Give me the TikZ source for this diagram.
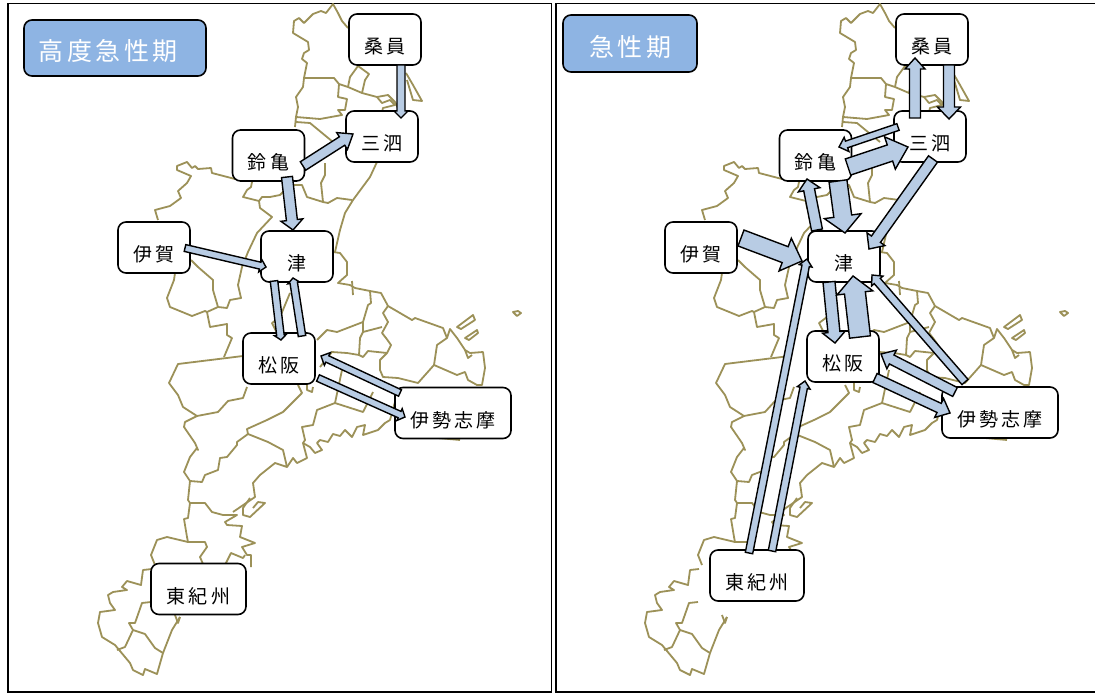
\documentclass[tikz,border=0pt]{standalone}
\usepackage{fontspec}
\usetikzlibrary{calc}
\newfontfamily\jp[LetterSpace=16]{Noto Sans CJK JP}
\newfontfamily\jpt[LetterSpace=14]{Noto Sans CJK JP}
\definecolor{maplc}{HTML}{9C9158}
\definecolor{arrowc}{HTML}{B8CCE4}
\definecolor{titlec}{HTML}{8EB4E3}
\tikzset{
  mapline/.style={draw=maplc,line width=1.8pt,line join=round,fill=none},
  framebox/.style={draw=black,line width=1.6pt,fill=none},
  place/.style={draw=black,fill=white,line width=1.6pt,rounded corners=8pt,inner sep=0pt,
    minimum width=72pt,minimum height=51pt,text height=36pt,text depth=8pt,
    font=\jp\fontsize{19pt}{19pt}\selectfont},
  wideplace/.style={place,minimum width=#1},
  titlebox/.style={draw=black,fill=titlec,line width=1.6pt,rounded corners=8pt,inner sep=0pt,
    text=white,text height=30pt,text depth=4pt,font=\jpt\fontsize{25pt}{25pt}\selectfont},
  bk/.style n args={3}{draw=black,fill=arrowc,line width=1.4pt,line join=miter,
    to path={ let \p0=(\tikztostart), \p1=(\tikztotarget), \p2=($(\p1)!#3pt!(\p0)$) in
      -- ($(\p0)!0.5*#1pt!90:(\p1)$) -- ($(\p2)!0.5*#1pt!90:(\p1)$) -- ($(\p2)!0.5*#2pt!90:(\p1)$)
      -- (\p1)
      -- ($(\p2)!0.5*#2pt!-90:(\p1)$) -- ($(\p2)!0.5*#1pt!-90:(\p1)$) -- ($(\p0)!0.5*#1pt!-90:(\p1)$) -- cycle}}
}
% \link{from}{dx,dy}{to}{dx,dy}{shaft}{head width}{head length}
\newcommand\link[7]{%
  \coordinate (cs) at ([shift={(#2)}]#1.center);
  \coordinate (ct) at ([shift={(#4)}]#3.center);
  \draw[bk={#5}{#6}{#7}] (cs) to (ct);}
\newcommand\mieMap{%
  % north
  \draw[mapline] (348,28)--(342,21)--(338,13)--(333,4)--(326,13)--(321,11)--(313,14)--(304,23)--(299,18)--(294,21)--(293,33)--(308,42)--(309,50)--(304,53)--(302,59)--(307,63)--(304,78)--(303,87)--(296,97)--(298,107)--(296,117)--(295,127);
  \draw[mapline] (303,78)--(334,78)--(339,84)--(348,87)--(362,93)--(377,97)--(388,95)--(395,102)--(399,110);
  \draw[mapline] (339,84)--(338,97)--(347,99)--(345,110)--(338,110)--(342,115)--(320,119)--(296,117);
  \draw[mapline] (358,66)--(350,77)--(348,87);
  \draw[mapline] (358,66)--(369,74)--(365,80)--(362,93);
  \draw[mapline] (377,97)--(382,103)--(390,100)--(395,105)--(383,108)--(382,112);
  \draw[mapline] (406,73)--(413,85)--(422,101)--(413,100)--(407,80);
  \draw[mapline] (296,122)--(310,123)--(333,142);
  \draw[mapline] (377,162)--(370,177)--(353,200)--(345,213)--(340,230)--(335,252);
  \draw[mapline] (325,163)--(325,175)--(321,183)--(323,202)--(307,197)--(302,185)--(290,185);
  \draw[mapline] (323,202)--(328,203)--(337,198)--(352,200);
  % west of Suzuka
  \draw[mapline] (235,179)--(212,173)--(211,168)--(198,169)--(195,166)--(192,168)--(187,162)--(177,166)--(177,170)--(191,176)--(187,183)--(178,191)--(181,198)--(170,206)--(155,210)--(158,220);
  \draw[mapline] (252,182)--(251,187)--(247,190)--(243,197)--(259,201)--(262,197)--(270,197)--(280,195)--(290,185);
  \draw[mapline] (259,201)--(260,208)--(272,217)--(257,233)--(248,252)--(242,267)--(238,285)--(241,298)--(230,300)--(227,308)--(218,307)--(213,290)--(213,280)--(198,267)--(191,260);
  \draw[mapline] (175,273)--(174,280)--(167,298)--(170,307)--(192,316)--(205,311)--(207,312)--(218,307);
  \draw[mapline] (207,312)--(210,327)--(227,324)--(227,335)--(232,338)--(224,357);
  % Tsu south
  \draw[mapline] (290,293)--(280,317)--(272,323)--(277,333);
  % Matsusaka
  \draw[mapline] (243,356)--(178,364)--(169,383)--(178,395)--(183,407)--(197,416)--(185,422)--(184,427)--(195,443)--(198,450)--(197,448)--(190,457)--(184,472)--(190,481)--(188,500)--(190,503)--(205,503)--(212,512)--(223,515)--(237,515)--(225,522)--(227,525)--(242,526)--(240,537)--(255,543)--(242,547)--(247,555)--(251,555)--(251,567);
  \draw[mapline] (197,416)--(218,412)--(228,401)--(243,398)--(247,387);
  \draw[mapline] (298,385)--(302,393)--(283,412)--(267,420)--(247,429)--(248,434)--(237,442)--(237,445)--(227,457)--(220,458)--(218,470)--(205,475)--(202,482)--(190,481);
  \draw[mapline] (248,434)--(268,442)--(283,450)--(287,467)--(275,463)--(260,475)--(253,483)--(255,497)--(233,512);
  \draw[mapline] (250,498)--(243,508)--(243,515)--(250,517)--(265,503)--(258,502)--(253,508);
  \draw[mapline] (287,467)--(293,458)--(297,463)--(307,458)--(303,443)--(305,440)--(302,427)--(313,425)--(317,410)--(335,403)--(363,412)--(373,392);
  \draw[mapline] (307,383)--(307,390)--(312,392)--(313,387);
  \draw[mapline] (335,403)--(342,370);
  \draw[mapline] (320,367)--(332,352)--(347,353)--(359,355);
  % coast of bay
  \draw[mapline] (395,402)--(390,420)--(385,423)--(378,430)--(363,435)--(365,425)--(357,427)--(352,437)--(345,430)--(340,436)--(333,434)--(328,442)--(320,440)--(317,443)--(322,450)--(315,453)--(310,447)--(303,443);
  % east of Tsu
  \draw[mapline] (333,252)--(340,253)--(347,262)--(347,275)--(338,283)--(350,285)--(355,288)--(370,291)--(381,293)--(388,306)--(412,320)--(415,318)--(443,328)--(447,338)--(437,345)--(434,365)--(457,375)--(465,372)--(468,380)--(477,385)--(482,385)--(485,368)--(483,352)--(470,353)--(465,350)--(457,338)--(450,329)--(447,338);
  \draw[mapline] (352,281)--(353,295);
  \draw[mapline] (370,291)--(371,303)--(368,305)--(363,322)--(363,332)--(360,338)--(359,355)--(363,357)--(368,351)--(387,353)--(391,345)--(386,338)--(382,333)--(388,322)--(383,313)--(388,306);
  \draw[mapline] (363,322)--(337,332)--(327,330)--(317,340);
  \draw[mapline] (363,332)--(382,327);
  \draw[mapline] (387,353)--(380,360)--(380,370)--(383,377)--(398,378)--(418,383)--(434,365);
  \draw[mapline] (457,327)--(473,315)--(475,320)--(461,329)--cycle;
  \draw[mapline] (465,338)--(477,330)--(478,333)--(469,340)--cycle;
  \draw[mapline] (465,350)--(468,358)--(472,355);
  \draw[mapline] (513,312)--(518,311)--(521,313)--(517,316)--cycle;
  \draw[mapline] (438,438)--(460,440);
  % Higashi-Kishu
  \draw[mapline] (190,503)--(188,518)--(184,519)--(187,537)--(188,542)--(205,542)--(207,547)--(200,557)--(203,564);
  \draw[mapline] (188,542)--(167,537)--(157,540)--(151,555)--(155,565);
  \draw[mapline] (225,565)--(231,553)--(243,558)--(245,555);
  \draw[mapline] (152,569)--(143,570)--(141,585)--(127,581)--(122,587)--(127,590)--(113,592)--(108,595)--(110,603)--(115,610)--(100,612)--(98,623)--(102,637)--(115,645)--(130,663)--(133,670)--(143,675)--(145,669)--(157,674)--(163,653)--(172,630)--(180,617);
  \draw[mapline] (151,602)--(142,603)--(135,623)--(129,623)--(133,630)--(125,647)--(117,650);
  \draw[mapline] (133,630)--(145,634)--(155,648)--(163,653);
  \draw[mapline] (175,615)--(178,623)--(180,617);
}
\begin{document}
\begin{tikzpicture}[x=1pt,y=-1pt]
\useasboundingbox (0,0) rectangle (1095,693);
\fill[white] (0,0) rectangle (1095,693);
\begin{scope}
  \clip (0,0) rectangle (1095,693);
  \draw[framebox] (8,3.5) rectangle (551.5,692);
  \draw[framebox] (556,3.5) rectangle (1100,692);
\end{scope}
\mieMap
\begin{scope}[xshift=547pt]\mieMap\end{scope}
% titles
\node[titlebox,minimum width=182pt,minimum height=56pt] (t1) at (115,48) {高度急性期\kern14pt\relax};
\node[titlebox,minimum width=134pt,minimum height=57pt] (t2) at (630,43.5) {急性期};
% left panel
\node[place] (Lkuwa) at (385,39.5) {桑員};
\node[place] (Lsan) at (382,136.5) {三泗};
\node[place] (Lsuz) at (268.5,155.5) {鈴亀};
\node[place] (Ltsu) at (297,256.5) {津};
\node[place] (Liga) at (154,247.5) {伊賀};
\node[place] (Lmat) at (279,358.5) {松阪};
\node[wideplace=116pt] (Lise) at (453,413) {伊勢志摩};
\node[wideplace=95pt] (Lhig) at (198.5,589) {東紀州};
% right panel
\node[place] (Rkuwa) at (932,39.5) {桑員};
\node[place] (Rsan) at (930,136.5) {三泗};
\node[place] (Rsuz) at (815.5,155.5) {鈴亀};
\node[place] (Rtsu) at (844,256.5) {津};
\node[place] (Riga) at (701,247.5) {伊賀};
\node[place] (Rmat) at (843,356.5) {松阪};
\node[wideplace=116pt] (Rise) at (1000,412.5) {伊勢志摩};
\node[wideplace=94pt] (Rhig) at (757,575.5) {東紀州};
% left arrows
\link{Lkuwa}{16,25.5}{Lsan}{19,-18.5}{8}{14}{7}
\link{Lsuz}{34.5,10.5}{Lsan}{-29,-2.5}{10}{20}{13}
\link{Lsuz}{18.5,21.5}{Ltsu}{-4,-26.5}{11}{22}{10}
\link{Liga}{31,0.5}{Ltsu}{-31,10.5}{7}{13}{6}
\link{Ltsu}{-23,24.5}{Lmat}{2,-18.5}{7.5}{12}{5}
\link{Lmat}{23,-22.5}{Ltsu}{-4,21.5}{7.5}{12}{5}
\link{Lise}{-53,-20}{Lmat}{42,-2.5}{7}{14}{7}
\link{Lmat}{39,19.5}{Lise}{-48,4}{7}{13}{6}
% right arrows
\link{Rsan}{-15,-18.5}{Rkuwa}{-17,18.5}{11}{20}{11}
\link{Rkuwa}{17,25.5}{Rsan}{19,-17.5}{11}{23}{12}
\link{Rsan}{-32,-9.5}{Rsuz}{23.5,-8.5}{7}{15}{8}
\link{Rsuz}{32.5,11.5}{Rsan}{-22,10.5}{17}{34}{19}
\link{Rsuz}{22.5,25.5}{Rtsu}{1,-23.5}{18}{37}{17}
\link{Rtsu}{-27,-26.5}{Rsuz}{-8.5,23.5}{11}{22}{11}
\link{Rsan}{3,22.5}{Rtsu}{25,-7.5}{11}{22}{12}
\link{Riga}{40,-9.5}{Rtsu}{-42,4.5}{17}{35}{18}
\link{Rhig}{-8,-22.5}{Rtsu}{-37,2.5}{7.5}{13}{7}
\link{Rhig}{15,-24.5}{Rmat}{-38,24.5}{7.5}{13}{7}
\link{Rtsu}{-15,25.5}{Rmat}{-8,-13.5}{12}{23}{11}
\link{Rmat}{17,-19.5}{Rtsu}{9,19.5}{21}{36}{17}
\link{Rise}{-35,-30.5}{Rtsu}{28,18.5}{8}{15}{8}
\link{Rise}{-45,-20.5}{Rmat}{38,-2.5}{10}{21}{12}
\link{Rmat}{32,21.5}{Rise}{-50,0.5}{10}{21}{12}
\end{tikzpicture}
\end{document}
